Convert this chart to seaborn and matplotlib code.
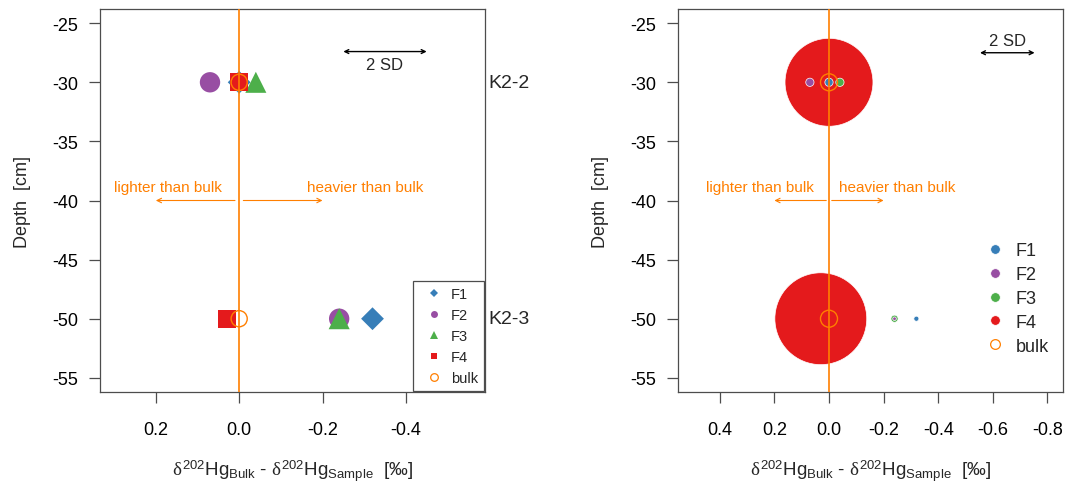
import matplotlib
matplotlib.use("Agg")
import matplotlib.pyplot as plt
import matplotlib.transforms as mtransforms
from matplotlib.lines import Line2D
import numpy as np
import pandas as pd
import seaborn as sns

# ---- data -------------------------------------------------------------
fractions = ["F1", "F2", "F3", "F4"]
samples = ["K2-2", "K2-3"]
sample_depth = [-30, -50]                      # cm
# delta202Hg(bulk) - delta202Hg(sample) [permil] for F1..F4
delta_k22 = [0.00, 0.07, -0.04, 0.00]
delta_k23 = [-0.32, -0.24, -0.24, 0.03]
# share of total Hg held by each fraction [%]
share_k22 = [0.8, 0.8, 0.8, 90.7]
share_k23 = [0.3, 0.15, 0.6, 99.0]
bulk_delta = [0.0, 0.0]
two_sd = 0.2                                   # width of the 2 SD bar [permil]

# ---- style ------------------------------------------------------------
sns.set_style("ticks")
plt.rcParams["font.family"] = ["Liberation Sans", "DejaVu Sans"]
plt.rcParams["axes.unicode_minus"] = False
plt.rcParams["mathtext.fontset"] = "custom"
plt.rcParams["mathtext.rm"] = "Liberation Sans"
plt.rcParams["mathtext.it"] = "Liberation Serif"
plt.rcParams["mathtext.bf"] = "Liberation Sans:bold"

set1 = sns.color_palette("Set1", 5)
frac_colors = {"F1": set1[1], "F2": set1[3], "F3": set1[2], "F4": set1[0]}
orange = set1[4]
frame_col = "#4d4d4d"

df = pd.DataFrame({
    "fraction": fractions * 2,
    "sample": [samples[0]] * 4 + [samples[1]] * 4,
    "depth": [sample_depth[0]] * 4 + [sample_depth[1]] * 4,
    "delta": delta_k22 + delta_k23,
    "share": share_k22 + share_k23,
})
bulk = pd.DataFrame({"sample": samples, "depth": sample_depth, "delta": bulk_delta})

xlabel = (r"$\delta^{\mathrm{202}}\mathrm{Hg}_{\mathrm{Bulk}}$ - "
          r"$\delta^{\mathrm{202}}\mathrm{Hg}_{\mathrm{Sample}}$  [‰]")

W, H = 1067, 485
fig = plt.figure(figsize=(W / 100, H / 100), dpi=100)
ax1 = fig.add_axes([100 / W, 1 - 393 / H, 385 / W, 383 / H])
ax2 = fig.add_axes([678 / W, 1 - 393 / H, 385 / W, 383 / H])


def style_axes(ax, xlim, xticks):
    ax.set_xlim(*xlim)
    ax.set_ylim(-56.2, -23.8)
    ax.set_xticks(xticks)
    ax.set_xticklabels([f"{t:.1f}" for t in xticks])
    ax.set_yticks(np.arange(-55, -24, 5))
    for s in ax.spines.values():
        s.set_visible(True)
        s.set_color(frame_col)
        s.set_linewidth(0.9)
    ax.tick_params(axis="both", direction="out", length=8, width=0.9,
                   color=frame_col, labelsize=13, labelcolor="black")
    ax.tick_params(axis="x", pad=13)
    ax.tick_params(axis="y", pad=8)
    ax.set_xlabel(xlabel, fontsize=13.5, labelpad=14)
    ax.set_ylabel("Depth  [cm]", fontsize=13, labelpad=15)
    ax.axvline(0, color=orange, lw=1.2, zorder=10)


def direction_arrows(ax, x_light, x_heavy):
    for end in (0.2, -0.2):
        start = 0.01 if end > 0 else -0.01
        ax.annotate("", xy=(end, -40), xytext=(start, -40),
                    arrowprops=dict(arrowstyle="->", color=orange, lw=0.8,
                                    mutation_scale=8, shrinkA=0, shrinkB=0))
    ax.text(x_light, -38.9, "lighter than bulk", color=orange, fontsize=11,
            ha="center", va="center")
    ax.text(x_heavy, -38.9, "heavier than bulk", color=orange, fontsize=11,
            ha="center", va="center")


# ---- left panel: fraction offsets with fixed symbols ---------------------
markers = {"F1": "D", "F2": "o", "F3": "^", "F4": "s"}
sizes = {"F1": 135, "F2": 215, "F3": 230, "F4": 165}
sns.scatterplot(data=df, x="delta", y="depth", hue="fraction", style="fraction",
                size="fraction", palette=frac_colors, markers=markers, sizes=sizes,
                linewidth=0, legend=False, ax=ax1, zorder=3)
sns.scatterplot(data=bulk, x="delta", y="depth", marker="o", s=135,
                facecolors="none", edgecolor=orange, linewidth=1.0,
                legend=False, ax=ax1, zorder=4)
style_axes(ax1, (0.334, -0.590), [0.2, 0.0, -0.2, -0.4])
direction_arrows(ax1, 0.170, -0.302)

ax1.annotate("", xy=(-0.25 - two_sd, -27.4), xytext=(-0.25, -27.4),
             arrowprops=dict(arrowstyle="<->", color="black", lw=1.0,
                             mutation_scale=7, shrinkA=0, shrinkB=0))
ax1.text(-0.25 - two_sd / 2, -28.5, "2 SD", fontsize=12, ha="center", va="center")

trans = mtransforms.blended_transform_factory(ax1.transAxes, ax1.transData)
for name, d in zip(samples, sample_depth):
    ax1.text(1.008, d, name, transform=trans, fontsize=14, ha="left",
             va="center", clip_on=False)

h_left = [Line2D([], [], ls="", marker=markers[f], color=frac_colors[f],
                 markersize={"F1": 4, "F2": 5, "F3": 6, "F4": 5}[f],
                 markeredgewidth=0, label=f) for f in fractions]
h_left.append(Line2D([], [], ls="", marker="o", markerfacecolor="none",
                     markeredgecolor=orange, markeredgewidth=0.9, markersize=5.5,
                     label="bulk"))
leg = ax1.legend(handles=h_left, loc="lower right", bbox_to_anchor=(1.0, 0.0),
                 borderaxespad=0.1, fontsize=10.5, frameon=True, fancybox=False,
                 framealpha=1, edgecolor=frame_col, handlelength=2.0,
                 handletextpad=0.15, labelspacing=0.48, borderpad=0.4)
leg.get_frame().set_linewidth(0.9)

# ---- right panel: symbol area scaled by share of total Hg ----------------
df_r = df.sort_values("share", ascending=False)
sns.scatterplot(data=df_r, x="delta", y="depth", hue="fraction", size="share",
                palette=frac_colors, sizes=(0, 4420), size_norm=(0, 100),
                edgecolor="white", linewidth=0.5, legend=False, ax=ax2, zorder=3)
sns.scatterplot(data=bulk, x="delta", y="depth", marker="o", s=150,
                facecolors="none", edgecolor=orange, linewidth=1.0,
                legend=False, ax=ax2, zorder=4)
style_axes(ax2, (0.553, -0.857), [0.4, 0.2, 0.0, -0.2, -0.4, -0.6, -0.8])
direction_arrows(ax2, 0.253, -0.249)

ax2.annotate("", xy=(-0.553 - two_sd, -27.5), xytext=(-0.553, -27.5),
             arrowprops=dict(arrowstyle="<->", color="black", lw=1.0,
                             mutation_scale=7, shrinkA=0, shrinkB=0))
ax2.text(-0.553 - two_sd / 2, -26.5, "2 SD", fontsize=12, ha="center", va="center")

h_right = [Line2D([], [], ls="", marker="o", color=frac_colors[f], markersize=7,
                  markeredgecolor="white", markeredgewidth=0.6, label=f)
           for f in fractions]
h_right.append(Line2D([], [], ls="", marker="o", markerfacecolor="none",
                      markeredgecolor=orange, markeredgewidth=0.9, markersize=7,
                      label="bulk"))
ax2.legend(handles=h_right, loc="lower right", bbox_to_anchor=(1.0, 0.06),
           borderaxespad=0.4, fontsize=13, frameon=False, handlelength=1.0,
           handletextpad=0.6, labelspacing=0.38)

fig.savefig("out.png", dpi=100)
